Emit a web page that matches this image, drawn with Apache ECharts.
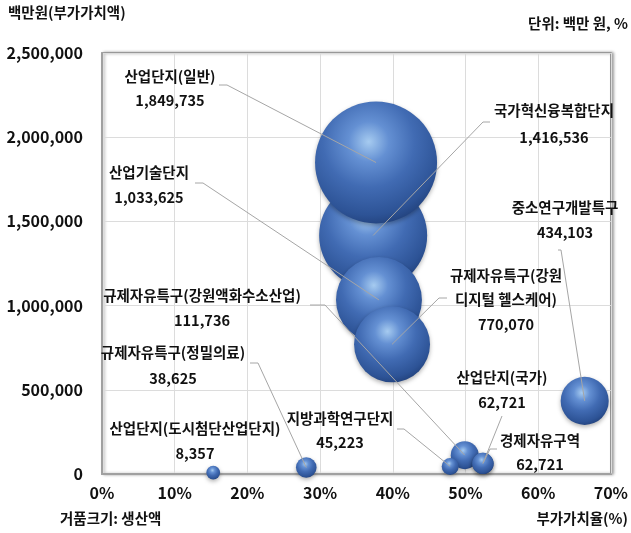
<!DOCTYPE html>
<html>
<head>
<meta charset="utf-8">
<script src="https://cdn.jsdelivr.net/npm/echarts@6/dist/echarts.min.js"></script>
<style>
html,body{margin:0;padding:0;background:#fff;}
#c{width:631px;height:533px;}
</style>
</head>
<body>
<div id="c"></div>
<script>
// ---- data (drawing order: back to front) ----
const categories = [
  '국가혁신융복합단지',
  '산업단지(일반)',
  '산업기술단지',
  '규제자유특구(강원 디지털 헬스케어)',
  '중소연구개발특구',
  '규제자유특구(강원액화수소산업)',
  '산업단지(국가)',
  '경제자유구역',
  '지방과학연구단지',
  '규제자유특구(정밀의료)',
  '산업단지(도시첨단산업단지)'
];
// x: 부가가치율(%)
const valueAddedRate = [37.3, 37.7, 38.1, 39.9, 66.4, 49.9, 52.4, 52.4, 47.9, 28.1, 15.3];
// y: 부가가치액 (백만원)
const valueAdded = [1416536, 1849735, 1033625, 770070, 434103, 111736, 62721, 62721, 45223, 38625, 8357];
// bubble size: 생산액 (백만원, estimated)
const production = [3840000, 4900000, 2430000, 1900000, 760000, 258000, 150000, 150000, 95000, 140000, 62000];
// label texts
const labelNames = [
  ['국가혁신융복합단지'],
  ['산업단지(일반)'],
  ['산업기술단지'],
  ['규제자유특구(강원', '디지털 헬스케어)'],
  ['중소연구개발특구'],
  ['규제자유특구(강원액화수소산업)'],
  ['산업단지(국가)'],
  ['경제자유구역'],
  ['지방과학연구단지'],
  ['규제자유특구(정밀의료)'],
  ['산업단지(도시첨단산업단지)']
];
const labelValues = ['1,416,536', '1,849,735', '1,033,625', '770,070', '434,103', '111,736', '62,721', '62,721', '45,223', '38,625', '8,357'];
const xTickMax = 70, xTickStep = 10;
const yTickMax = 2500000, yTickStep = 500000;

// ---- layout (label placement in pixels, not data) ----
const labelLayout = [
  [554, 110, 27],
  [170, 76, 24],
  [149, 172, 25],
  [506, 275, 24.5],
  [565, 207, 25],
  [202, 295, 25],
  [502, 377, 25],
  [540, 440, 24],
  [340, 418, 24],
  [173, 352, 26],
  [195, 428, 25]
];
const leaderStarts = [
  [[490, 122], [483, 122]],
  [[219, 85], [227, 85]],
  [[195, 183], [203, 183]],
  [[447, 298], [439, 298]],
  [[558, 250], [561, 250]],
  [[310, 305], [325, 305]],
  [[502, 416]],
  [[497, 449], [490, 449]],
  [[397, 429], [404, 429]],
  [[250, 363], [258, 363]],
  null
];

const FONT = '"Noto Sans CJK KR", "Noto Sans", sans-serif';
const LABEL_FONT = 'bold 14.5px ' + FONT;
function fmt(n){ return String(n).replace(/\B(?=(\d{3})+(?!\d))/g, ','); }

const points = categories.map((c, i) => [valueAddedRate[i], valueAdded[i], production[i], c]);

const sphere = new echarts.graphic.RadialGradient(0.44, 0.33, 0.75, [
  {offset: 0, color: '#a6cbf0'},
  {offset: 0.22, color: '#6490d3'},
  {offset: 0.5, color: '#416bb3'},
  {offset: 0.8, color: '#2d5396'},
  {offset: 1, color: '#1c386e'}
]);

const chart = echarts.init(document.getElementById('c'), null, {renderer: 'canvas'});
chart.setOption({
  animation: false,
  backgroundColor: '#fff',
  textStyle: {fontFamily: FONT},
  grid: {
    left: 102, right: 13, top: 53, bottom: 59,
    show: true, borderColor: '#8c8c8c', borderWidth: 1.5,
    backgroundColor: '#fff',
    shadowColor: 'rgba(0,0,0,0.35)', shadowBlur: 3, shadowOffsetX: 2, shadowOffsetY: 0
  },
  xAxis: {
    type: 'value', min: 0, max: xTickMax, interval: xTickStep,
    axisLine: {show: true, lineStyle: {color: '#a0a0a0', width: 2}},
    axisTick: {show: false},
    splitLine: {show: true, lineStyle: {color: '#dcdcdc', width: 1}},
    axisLabel: {formatter: v => v + '%', color: '#111', fontSize: 16, fontWeight: 'bold', fontFamily: FONT, margin: 11}
  },
  yAxis: {
    type: 'value', min: 0, max: yTickMax, interval: yTickStep,
    axisLine: {show: true, lineStyle: {color: '#a0a0a0', width: 2}},
    axisTick: {show: false},
    splitLine: {show: true, lineStyle: {color: '#dcdcdc', width: 1}},
    axisLabel: {formatter: v => fmt(v), color: '#111', fontSize: 16, fontWeight: 'bold', fontFamily: FONT, margin: 19}
  },
  graphic: [
    {type: 'text', left: 8, top: 5, style: {text: '백만원(부가가치액)', font: LABEL_FONT, fill: '#111'}},
    {type: 'text', right: 3, top: 16, style: {text: '단위: 백만 원, %', font: LABEL_FONT, fill: '#111'}},
    {type: 'text', left: 60, top: 511, style: {text: '거품크기: 생산액', font: LABEL_FONT, fill: '#111'}},
    {type: 'text', right: 3, top: 511, style: {text: '부가가치율(%)', font: LABEL_FONT, fill: '#111'}}
  ],
  series: [
    {
      type: 'scatter',
      data: points,
      symbolSize: d => 122 * Math.sqrt(d[2] / 4900000),
      itemStyle: {
        color: sphere, opacity: 1,
        shadowColor: 'rgba(0,0,0,0.3)', shadowBlur: 4, shadowOffsetY: 2
      },
      z: 2
    },
    {
      type: 'custom',
      data: points,
      encode: {x: 0, y: 1},
      clip: false,
      z: 5,
      renderItem: function (params, api) {
        const i = params.dataIndex;
        const pt = api.coord([api.value(0), api.value(1)]);
        const children = [];
        const st = leaderStarts[i];
        if (st) {
          children.push({
            type: 'polyline',
            shape: {points: st.concat([pt])},
            style: {stroke: '#a6a6a6', lineWidth: 1, fill: null}
          });
        }
        const L = labelLayout[i];
        const lines = labelNames[i].concat([labelValues[i]]);
        lines.forEach((t, k) => {
          children.push({
            type: 'text',
            x: L[0], y: L[1] + k * L[2],
            style: {
              text: t, align: 'center', verticalAlign: 'middle',
              font: LABEL_FONT, fill: '#111'
            }
          });
        });
        return {type: 'group', children: children};
      }
    }
  ]
});
</script>
</body>
</html>
